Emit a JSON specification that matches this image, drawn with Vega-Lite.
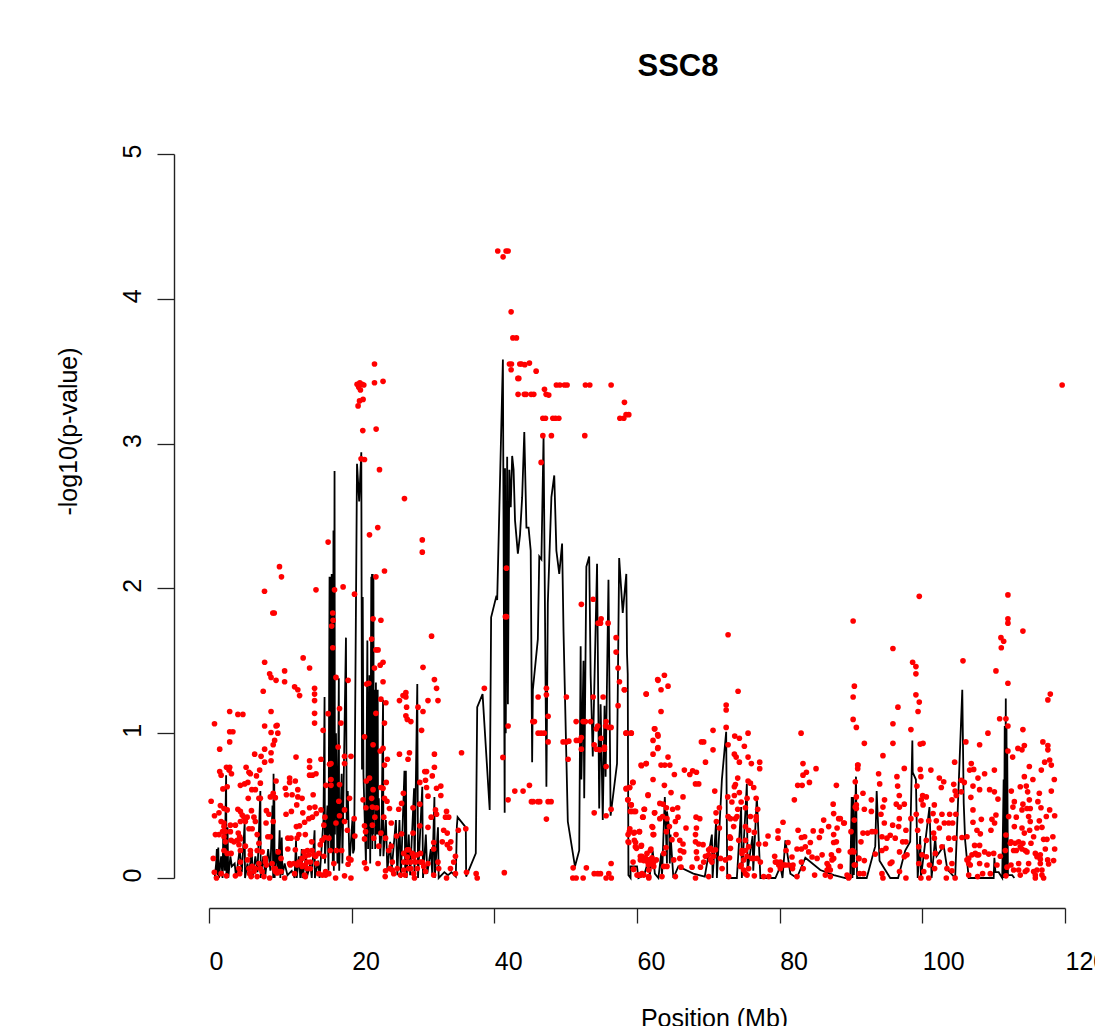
{"$schema":"https://vega.github.io/schema/vega-lite/v6.json","width":856,"height":724,"autosize":{"type":"none"},"padding":{"left":209,"top":154,"right":30,"bottom":148},"background":"white","config":{"view":{"stroke":null},"font":"Liberation Sans"},
"title":{"text":"SSC8","font":"Liberation Sans","fontSize":31,"fontWeight":"bold","color":"black","anchor":"middle","dx":41,"offset":77,"dy":16},
"datasets":{"line":[{"x":0.8,"y":0},{"x":1.0,"y":0.1},{"x":1.1,"y":0.2},{"x":1.2,"y":0.02},{"x":1.3,"y":0.21},{"x":1.4,"y":0},{"x":1.7,"y":0.15},{"x":1.9,"y":0},{"x":2.0,"y":0.3},{"x":2.2,"y":0.05},{"x":2.4,"y":0.71},{"x":2.45,"y":0},{"x":2.6,"y":0.35},{"x":2.7,"y":0},{"x":3.0,"y":0.15},{"x":3.2,"y":0.08},{"x":3.6,"y":0.1},{"x":3.8,"y":0},{"x":4.3,"y":0.2},{"x":4.6,"y":0.04},{"x":5,"y":0.38},{"x":5.05,"y":0},{"x":5.4,"y":0.1},{"x":5.6,"y":0.02},{"x":6.0,"y":0.2},{"x":6.1,"y":0},{"x":6.5,"y":0.15},{"x":6.8,"y":0.04},{"x":7.2,"y":0.6},{"x":7.25,"y":0},{"x":7.6,"y":0.15},{"x":7.9,"y":0.02},{"x":8.3,"y":0.2},{"x":8.6,"y":0.05},{"x":8.9,"y":0.5},{"x":9,"y":0},{"x":9.05,"y":0.72},{"x":9.1,"y":0.02},{"x":9.15,"y":0.65},{"x":9.2,"y":0},{"x":9.5,"y":0.2},{"x":9.7,"y":0.03},{"x":9.9,"y":0.33},{"x":10,"y":0},{"x":10.2,"y":0.28},{"x":10.3,"y":0.02},{"x":10.6,"y":0.1},{"x":11,"y":0.02},{"x":11.6,"y":0.05},{"x":12,"y":0},{"x":12.2,"y":0.26},{"x":12.3,"y":0},{"x":12.6,"y":0.15},{"x":12.8,"y":0},{"x":13,"y":0.2},{"x":13.1,"y":0},{"x":13.6,"y":0.15},{"x":13.7,"y":0},{"x":14.2,"y":0.1},{"x":14.4,"y":0},{"x":14.8,"y":0.33},{"x":14.85,"y":0},{"x":15.3,"y":0.12},{"x":15.5,"y":0},{"x":16.05,"y":0.4},{"x":16.2,"y":1.25},{"x":16.25,"y":0.1},{"x":16.6,"y":0.5},{"x":16.75,"y":0.05},{"x":16.9,"y":2.08},{"x":17,"y":0.3},{"x":17.05,"y":2.08},{"x":17.1,"y":0.2},{"x":17.2,"y":2.1},{"x":17.25,"y":0.3},{"x":17.3,"y":2.1},{"x":17.35,"y":0.1},{"x":17.45,"y":2.4},{"x":17.5,"y":0.05},{"x":17.6,"y":2.81},{"x":17.65,"y":0.3},{"x":17.8,"y":1.0},{"x":18.0,"y":0.1},{"x":18.2,"y":1.38},{"x":18.25,"y":0.05},{"x":18.6,"y":0.72},{"x":18.7,"y":0.1},{"x":19.2,"y":1.66},{"x":19.3,"y":0.4},{"x":19.45,"y":0.6},{"x":19.7,"y":0.1},{"x":20.1,"y":0.4},{"x":20.2,"y":0.17},{"x":20.35,"y":0.2},{"x":20.75,"y":2.86},{"x":21.05,"y":2.6},{"x":21.35,"y":2.94},{"x":21.45,"y":0.75},{"x":21.55,"y":1.94},{"x":21.65,"y":0.72},{"x":22.0,"y":0.1},{"x":22.2,"y":1.64},{"x":22.3,"y":0.2},{"x":22.5,"y":1.4},{"x":22.6,"y":0.1},{"x":22.75,"y":2.08},{"x":22.8,"y":0.3},{"x":22.85,"y":2.1},{"x":22.9,"y":0.2},{"x":22.95,"y":2.1},{"x":23,"y":0.3},{"x":23.05,"y":2.08},{"x":23.1,"y":0.5},{"x":23.2,"y":1.3},{"x":23.3,"y":0.2},{"x":23.4,"y":1.35},{"x":23.5,"y":0.3},{"x":23.65,"y":1.3},{"x":23.7,"y":0.3},{"x":23.8,"y":0.55},{"x":24,"y":0.15},{"x":24.2,"y":0.35},{"x":24.4,"y":1.23},{"x":24.45,"y":0.15},{"x":24.8,"y":0.4},{"x":25,"y":0.05},{"x":25.4,"y":0.25},{"x":25.6,"y":0.05},{"x":26.2,"y":0.4},{"x":26.4,"y":0.02},{"x":26.7,"y":0.4},{"x":26.9,"y":0},{"x":27.4,"y":0.74},{"x":27.5,"y":0.05},{"x":27.6,"y":0.74},{"x":27.7,"y":0},{"x":28,"y":0.3},{"x":28.2,"y":0.02},{"x":28.75,"y":0.62},{"x":28.8,"y":0},{"x":29.2,"y":1.34},{"x":29.3,"y":0},{"x":29.9,"y":0.63},{"x":30,"y":0},{"x":30.4,"y":0.3},{"x":30.6,"y":0.03},{"x":31.1,"y":0.2},{"x":31.3,"y":0.02},{"x":31.6,"y":0.56},{"x":31.65,"y":0},{"x":32.1,"y":0.35},{"x":32.2,"y":0},{"x":33,"y":0.04},{"x":33.5,"y":0.02},{"x":34,"y":0.04},{"x":34.6,"y":0.01},{"x":34.75,"y":0.36},{"x":34.85,"y":0.42},{"x":36,"y":0.35},{"x":36.05,"y":0.01},{"x":37.4,"y":0.17},{"x":37.6,"y":1.18},{"x":38.35,"y":1.27},{"x":39.35,"y":0.47},{"x":39.55,"y":1.8},{"x":40.3,"y":1.95},{"x":40.4,"y":1.92},{"x":41.2,"y":3.58},{"x":41.45,"y":0.45},{"x":41.5,"y":2.83},{"x":41.6,"y":1.0},{"x":41.8,"y":2.91},{"x":41.9,"y":1.2},{"x":42.1,"y":2.82},{"x":42.3,"y":2.56},{"x":42.5,"y":2.915},{"x":42.7,"y":2.82},{"x":42.9,"y":2.47},{"x":43.3,"y":2.24},{"x":43.6,"y":2.37},{"x":43.9,"y":2.63},{"x":44.2,"y":3.08},{"x":44.5,"y":2.42},{"x":44.8,"y":2.42},{"x":45.1,"y":2.26},{"x":45.3,"y":0.8},{"x":45.4,"y":1.3},{"x":46.1,"y":1.65},{"x":46.3,"y":2.22},{"x":46.6,"y":2.2},{"x":46.9,"y":3.05},{"x":47.3,"y":0.63},{"x":47.5,"y":1.9},{"x":48.0,"y":2.63},{"x":48.4,"y":2.78},{"x":48.7,"y":2.26},{"x":49.1,"y":2.1},{"x":49.5,"y":2.31},{"x":49.7,"y":1.7},{"x":50.3,"y":0.39},{"x":51.3,"y":0.08},{"x":51.9,"y":0.19},{"x":52.1,"y":1.6},{"x":52.2,"y":0.68},{"x":52.5,"y":1.5},{"x":52.6,"y":0.55},{"x":52.9,"y":2.15},{"x":53.3,"y":2.22},{"x":53.5,"y":1.4},{"x":53.8,"y":0.84},{"x":54.4,"y":2.17},{"x":54.7,"y":0.48},{"x":54.9,"y":1.2},{"x":55.2,"y":0.4},{"x":55.45,"y":1.19},{"x":55.6,"y":0.7},{"x":56,"y":2.06},{"x":56.3,"y":0.43},{"x":57.2,"y":0.79},{"x":57.5,"y":2.21},{"x":58,"y":1.83},{"x":58.5,"y":2.1},{"x":58.6,"y":1.55},{"x":58.7,"y":1.41},{"x":58.8,"y":0.02},{"x":59.1,"y":0},{"x":59.1,"y":0.08},{"x":60,"y":0.08},{"x":60.2,"y":0},{"x":61,"y":0.02},{"x":61.6,"y":0.12},{"x":61.8,"y":0.02},{"x":62.2,"y":0.19},{"x":62.5,"y":0.03},{"x":63,"y":0},{"x":63.4,"y":0.17},{"x":63.5,"y":0},{"x":63.9,"y":0.56},{"x":64.2,"y":0.1},{"x":64.2,"y":0.46},{"x":64.5,"y":0.35},{"x":64.6,"y":0.1},{"x":64.7,"y":0.3},{"x":65.1,"y":0},{"x":65.8,"y":0.08},{"x":67.9,"y":0.03},{"x":69.5,"y":0.01},{"x":70.5,"y":0.3},{"x":70.6,"y":0},{"x":71.1,"y":0.4},{"x":71.2,"y":0},{"x":71.9,"y":0.68},{"x":72.5,"y":1.01},{"x":72.65,"y":0},{"x":74,"y":0},{"x":74.6,"y":0.49},{"x":74.7,"y":0},{"x":75.4,"y":0.65},{"x":75.5,"y":0.05},{"x":76.2,"y":0.29},{"x":76.3,"y":0.05},{"x":76.8,"y":0.56},{"x":77.3,"y":0},{"x":79.4,"y":0},{"x":80.1,"y":0.08},{"x":80.4,"y":0},{"x":80.8,"y":0.26},{"x":81.5,"y":0.03},{"x":82.4,"y":0},{"x":83.6,"y":0.14},{"x":85.7,"y":0.055},{"x":87.6,"y":0.02},{"x":89.2,"y":0},{"x":89.9,"y":0},{"x":90.1,"y":0.56},{"x":90.2,"y":0},{"x":90.3,"y":0.56},{"x":90.4,"y":0.02},{"x":90.7,"y":0.7},{"x":90.85,"y":0},{"x":92.2,"y":0},{"x":93.4,"y":0.22},{"x":93.6,"y":0.6},{"x":94,"y":0.12},{"x":95.5,"y":0},{"x":96.6,"y":0},{"x":97.6,"y":0.19},{"x":98.3,"y":0.25},{"x":98.6,"y":0.95},{"x":98.65,"y":0.73},{"x":99.1,"y":0.68},{"x":99.35,"y":0},{"x":99.7,"y":0.29},{"x":99.8,"y":0},{"x":101,"y":0.49},{"x":101.3,"y":0},{"x":101.8,"y":0.28},{"x":102,"y":0.15},{"x":103,"y":0.22},{"x":103.5,"y":0.06},{"x":104.6,"y":0},{"x":105.6,"y":1.3},{"x":105.8,"y":0.52},{"x":106,"y":0.26},{"x":106.5,"y":0},{"x":110,"y":0},{"x":110.1,"y":0.14},{"x":110.25,"y":0.04},{"x":110.7,"y":0.04},{"x":111.2,"y":0},{"x":111.4,"y":0.68},{"x":111.45,"y":0},{"x":111.55,"y":1.05},{"x":111.6,"y":0},{"x":111.7,"y":1.24},{"x":111.75,"y":0},{"x":111.8,"y":1.05},{"x":111.85,"y":0.02},{"x":111.9,"y":0.9},{"x":112,"y":0.02},{"x":112.6,"y":0.02},{"x":112.9,"y":0}],
"pts":[{"x":0.3,"y":0.53},{"x":0.77,"y":0.43},{"x":1.6,"y":0.5},{"x":2.1,"y":0.48},{"x":2.55,"y":0.47},{"x":1.4,"y":0.45},{"x":1.7,"y":0.39},{"x":2.1,"y":0.38},{"x":0.9,"y":0.3},{"x":1.4,"y":0.3},{"x":1.9,"y":0.32},{"x":2.1,"y":0.355},{"x":3,"y":0.365},{"x":3.7,"y":0.365},{"x":4.05,"y":0.475},{"x":4.4,"y":0.46},{"x":4.65,"y":0.435},{"x":4.9,"y":0.42},{"x":5.95,"y":0.465},{"x":5.35,"y":0.42},{"x":6.3,"y":0.42},{"x":4.4,"y":0.39},{"x":5.1,"y":0.39},{"x":6.5,"y":0.39},{"x":4.1,"y":0.31},{"x":5.6,"y":0.34},{"x":6.05,"y":0.34},{"x":6.75,"y":0.3},{"x":4.3,"y":0.285},{"x":8.05,"y":0.465},{"x":8.4,"y":0.44},{"x":8,"y":0.38},{"x":9,"y":0.39},{"x":8.25,"y":0.285},{"x":8.6,"y":0.285},{"x":7,"y":0.24},{"x":2.1,"y":0.285},{"x":3,"y":0.32},{"x":3.1,"y":0.26},{"x":2.3,"y":0.25},{"x":2.1,"y":0.19},{"x":3.1,"y":0.17},{"x":0.6,"y":0.135},{"x":3.95,"y":0.26},{"x":4.2,"y":0.23},{"x":4.4,"y":0.19},{"x":5.1,"y":0.22},{"x":5.8,"y":0.19},{"x":5.8,"y":0.16},{"x":5.4,"y":0.125},{"x":4.4,"y":0.11},{"x":4.2,"y":0.065},{"x":6.05,"y":0.08},{"x":6.3,"y":0.045},{"x":6.75,"y":0.19},{"x":7.45,"y":0.18},{"x":7.9,"y":0.135},{"x":7,"y":0.1},{"x":7.45,"y":0.045},{"x":6.75,"y":0.01},{"x":0.75,"y":0.04},{"x":1.05,"y":0},{"x":1.7,"y":0.03},{"x":2.45,"y":0.015},{"x":3.7,"y":0.015},{"x":4.3,"y":0.03},{"x":5.9,"y":0.01},{"x":7.7,"y":0.01},{"x":8.5,"y":0},{"x":8.85,"y":0.1},{"x":9.7,"y":0.18},{"x":10.1,"y":0.135},{"x":9.3,"y":0.065},{"x":9.8,"y":0.045},{"x":10.6,"y":0},{"x":11.05,"y":0.2},{"x":11.05,"y":0.275},{"x":11.5,"y":0.275},{"x":12.35,"y":0.275},{"x":12.6,"y":0.3},{"x":13.5,"y":0.3},{"x":12.1,"y":0.195},{"x":12.25,"y":0.355},{"x":12.7,"y":0.36},{"x":13.4,"y":0.385},{"x":14,"y":0.41},{"x":14.5,"y":0.42},{"x":15.05,"y":0.445},{"x":14.85,"y":0.49},{"x":14.1,"y":0.485},{"x":13.15,"y":0.45},{"x":11.55,"y":0.46},{"x":10.8,"y":0.44},{"x":11.3,"y":0.1},{"x":11.9,"y":0.1},{"x":12.8,"y":0.1},{"x":13.5,"y":0.09},{"x":13.5,"y":0.15},{"x":13.3,"y":0.18},{"x":14.4,"y":0.25},{"x":14.45,"y":0.19},{"x":13.8,"y":0.19},{"x":14.95,"y":0.15},{"x":15.6,"y":0.23},{"x":15.4,"y":0.17},{"x":15.1,"y":0.1},{"x":14.2,"y":0.065},{"x":13.4,"y":0.02},{"x":12,"y":0.03},{"x":15.4,"y":0.03},{"x":16.35,"y":0.02},{"x":16.8,"y":0.03},{"x":17.75,"y":0},{"x":17.5,"y":0.1},{"x":17,"y":0.19},{"x":16.25,"y":0.28},{"x":15.7,"y":0.47},{"x":16.1,"y":0.365},{"x":16.25,"y":0.42},{"x":16.8,"y":0.275},{"x":17.8,"y":0.38},{"x":18.2,"y":0.53},{"x":18.3,"y":0.43},{"x":19,"y":0.47},{"x":19,"y":0.39},{"x":19.4,"y":0.33},{"x":20.35,"y":0.41},{"x":20.45,"y":0.29},{"x":19.7,"y":0.55},{"x":18.6,"y":0.19},{"x":17.85,"y":0.19},{"x":19.6,"y":0.135},{"x":19.9,"y":0.125},{"x":19.5,"y":0.095},{"x":19,"y":0.015},{"x":19.9,"y":0},{"x":21.6,"y":0.54},{"x":22,"y":0.485},{"x":21.8,"y":0.36},{"x":21.95,"y":0.32},{"x":21.8,"y":0.27},{"x":22.9,"y":0.365},{"x":23.1,"y":0.275},{"x":22.8,"y":0.55},{"x":23,"y":0.61},{"x":23.25,"y":0.42},{"x":23.5,"y":0.485},{"x":22.9,"y":0.49},{"x":23.8,"y":0.22},{"x":24.1,"y":0.31},{"x":24.75,"y":0.275},{"x":24.5,"y":0.42},{"x":24.6,"y":0.55},{"x":24.4,"y":0.62},{"x":24.1,"y":0.625},{"x":24.95,"y":0.53},{"x":25.3,"y":0.48},{"x":25.55,"y":0.38},{"x":23.7,"y":0.1},{"x":21.8,"y":0.105},{"x":22.05,"y":0.065},{"x":24.75,"y":0.05},{"x":25.55,"y":0.22},{"x":25.2,"y":0.19},{"x":27.25,"y":0.585},{"x":27,"y":0.515},{"x":26.6,"y":0.475},{"x":28.6,"y":0.485},{"x":29.55,"y":0.51},{"x":28.6,"y":0.31},{"x":27,"y":0.305},{"x":26.3,"y":0.29},{"x":25.7,"y":0.11},{"x":25.35,"y":0.065},{"x":25.9,"y":0.03},{"x":24.7,"y":0.01},{"x":27.8,"y":0.195},{"x":27.3,"y":0.17},{"x":28.5,"y":0.17},{"x":27.8,"y":0.145},{"x":28.3,"y":0.11},{"x":27.3,"y":0.11},{"x":29.2,"y":0.16},{"x":29.65,"y":0.17},{"x":29.9,"y":0.11},{"x":30.7,"y":0.1},{"x":28.3,"y":0.065},{"x":28.8,"y":0},{"x":26.85,"y":0.02},{"x":27.5,"y":0.02},{"x":29.2,"y":0.065},{"x":30.35,"y":0.045},{"x":31.5,"y":0.02},{"x":31.9,"y":0.62},{"x":32.5,"y":0.635},{"x":32.5,"y":0.57},{"x":30.7,"y":0.565},{"x":30.35,"y":0.675},{"x":29.55,"y":0.66},{"x":30.5,"y":0.625},{"x":31.75,"y":0.47},{"x":31.15,"y":0.42},{"x":31.9,"y":0.44},{"x":33.3,"y":0.46},{"x":33.15,"y":0.42},{"x":33.6,"y":0.42},{"x":30.7,"y":0.35},{"x":29.55,"y":0.36},{"x":32.9,"y":0.33},{"x":33.4,"y":0.31},{"x":34.95,"y":0.33},{"x":36,"y":0.34},{"x":31.5,"y":0.245},{"x":31.5,"y":0.2},{"x":32.1,"y":0.11},{"x":32.7,"y":0.25},{"x":33.4,"y":0.23},{"x":33.9,"y":0.25},{"x":33.75,"y":0.205},{"x":34.55,"y":0.15},{"x":34.3,"y":0.11},{"x":33.85,"y":0.065},{"x":34.55,"y":0.03},{"x":32.2,"y":0.065},{"x":33.3,"y":0},{"x":36.1,"y":0.04},{"x":37.45,"y":0.03},{"x":37.6,"y":0},{"x":7.2,"y":0.655},{"x":7,"y":0.55},{"x":7.2,"y":0.55},{"x":5.5,"y":0.55},{"x":6,"y":0.61},{"x":6.5,"y":0.61},{"x":4.4,"y":0.64},{"x":5,"y":0.65},{"x":5.45,"y":0.66},{"x":6.65,"y":0.705},{"x":5.8,"y":0.72},{"x":5.2,"y":0.765},{"x":7.1,"y":0.745},{"x":5.6,"y":0.73},{"x":1.5,"y":0.735},{"x":1.7,"y":0.71},{"x":2.45,"y":0.765},{"x":2.9,"y":0.765},{"x":2.8,"y":0.745},{"x":3.15,"y":0.72},{"x":1.95,"y":0.615},{"x":2.55,"y":0.63},{"x":9,"y":0.585},{"x":8.6,"y":0.56},{"x":9.3,"y":0.555},{"x":9.4,"y":0.67},{"x":11.3,"y":0.69},{"x":11.3,"y":0.66},{"x":12.1,"y":0.67},{"x":10.7,"y":0.62},{"x":10.85,"y":0.575},{"x":12.45,"y":0.61},{"x":11.65,"y":0.575},{"x":12.45,"y":0.56},{"x":13.05,"y":0.55},{"x":12.3,"y":0.505},{"x":14.6,"y":0.575},{"x":9.88,"y":2.15},{"x":10.16,"y":2.08},{"x":7.78,"y":1.98},{"x":8.95,"y":1.83},{"x":9.15,"y":1.83},{"x":15,"y":1.99},{"x":18.8,"y":2.01},{"x":17.6,"y":1.99},{"x":20.4,"y":1.96},{"x":23.4,"y":2.08},{"x":24.6,"y":2.12},{"x":17.35,"y":1.83},{"x":17.4,"y":1.78},{"x":17.2,"y":1.74},{"x":17.35,"y":1.59},{"x":23,"y":1.79},{"x":24.1,"y":1.78},{"x":22.8,"y":1.65},{"x":31.2,"y":1.67},{"x":13.2,"y":1.52},{"x":14.1,"y":1.45},{"x":10.6,"y":1.43},{"x":7.8,"y":1.49},{"x":8.5,"y":1.41},{"x":8.7,"y":1.385},{"x":9.4,"y":1.365},{"x":10.6,"y":1.355},{"x":12,"y":1.32},{"x":12.45,"y":1.3},{"x":12.7,"y":1.26},{"x":14.8,"y":1.31},{"x":14.8,"y":1.27},{"x":14.8,"y":1.225},{"x":14.8,"y":1.137},{"x":14.8,"y":1.07},{"x":7.6,"y":1.29},{"x":17.8,"y":1.385},{"x":19.5,"y":1.365},{"x":22.1,"y":1.34},{"x":22.4,"y":1.345},{"x":23.4,"y":1.575},{"x":23.7,"y":1.575},{"x":24.4,"y":1.49},{"x":24,"y":1.47},{"x":23.2,"y":1.45},{"x":24.4,"y":1.355},{"x":30,"y":1.455},{"x":31.6,"y":1.37},{"x":31.9,"y":1.31},{"x":24.1,"y":1.235},{"x":24.8,"y":1.21},{"x":30.7,"y":1.225},{"x":32.1,"y":1.225},{"x":26.7,"y":1.225},{"x":27.2,"y":1.26},{"x":27.6,"y":1.28},{"x":27.6,"y":1.25},{"x":27.7,"y":1.18},{"x":29.3,"y":1.18},{"x":30,"y":1.15},{"x":27.6,"y":1.12},{"x":27.8,"y":1.095},{"x":28.3,"y":1.08},{"x":23.4,"y":1.137},{"x":24.6,"y":1.07},{"x":29.8,"y":1.02},{"x":18.3,"y":1.17},{"x":16.7,"y":1.135},{"x":18.5,"y":1.07},{"x":16,"y":1.02},{"x":21.8,"y":0.975},{"x":23,"y":0.92},{"x":2.9,"y":1.15},{"x":4.05,"y":1.13},{"x":4.75,"y":1.13},{"x":8.7,"y":1.15},{"x":0.77,"y":1.065},{"x":7.8,"y":1.05},{"x":9.55,"y":1.055},{"x":9.4,"y":1.05},{"x":8.7,"y":1.005},{"x":9.65,"y":1},{"x":2.9,"y":1.01},{"x":3.35,"y":1.01},{"x":2.9,"y":0.94},{"x":9.2,"y":0.95},{"x":9,"y":0.92},{"x":1.5,"y":0.89},{"x":7.8,"y":0.89},{"x":6.4,"y":0.855},{"x":7.3,"y":0.84},{"x":8.7,"y":0.865},{"x":8.7,"y":0.81},{"x":7.8,"y":0.8},{"x":12.2,"y":0.835},{"x":15.7,"y":0.82},{"x":14.1,"y":0.81},{"x":14.1,"y":0.765},{"x":14.1,"y":0.71},{"x":14.5,"y":0.71},{"x":15,"y":0.72},{"x":16.9,"y":0.785},{"x":17.1,"y":0.79},{"x":18.1,"y":0.905},{"x":19,"y":0.84},{"x":19.9,"y":0.84},{"x":19,"y":0.79},{"x":24,"y":0.877},{"x":24.4,"y":0.895},{"x":25,"y":0.82},{"x":24.6,"y":0.78},{"x":26.7,"y":0.855},{"x":28.1,"y":0.865},{"x":27.9,"y":0.82},{"x":31.6,"y":0.855},{"x":31.6,"y":0.765},{"x":35.4,"y":0.865},{"x":38.6,"y":1.31},{"x":30.25,"y":0.735},{"x":30.5,"y":0.735},{"x":31.3,"y":0.705},{"x":24.85,"y":0.66},{"x":22.05,"y":0.67},{"x":22.5,"y":0.69},{"x":17.1,"y":0.68},{"x":16.4,"y":0.64},{"x":17.1,"y":0.64},{"x":18.3,"y":0.645},{"x":40.48,"y":4.33},{"x":41.65,"y":4.33},{"x":41.93,"y":4.33},{"x":41.23,"y":4.29},{"x":42.35,"y":3.91},{"x":42.6,"y":3.73},{"x":43.1,"y":3.73},{"x":42.12,"y":3.55},{"x":42.4,"y":3.55},{"x":42.35,"y":3.51},{"x":43.57,"y":3.55},{"x":43.8,"y":3.55},{"x":44.27,"y":3.545},{"x":44.92,"y":3.556},{"x":45.86,"y":3.5},{"x":43.3,"y":3.45},{"x":43.43,"y":3.45},{"x":43.33,"y":3.34},{"x":44.2,"y":3.34},{"x":44.45,"y":3.34},{"x":45.16,"y":3.34},{"x":45.53,"y":3.34},{"x":47.03,"y":3.375},{"x":47.26,"y":3.34},{"x":47.63,"y":3.335},{"x":48.7,"y":3.405},{"x":49.18,"y":3.405},{"x":49.83,"y":3.405},{"x":50.2,"y":3.405},{"x":52.77,"y":3.405},{"x":53.38,"y":3.405},{"x":56.37,"y":3.405},{"x":58.24,"y":3.285},{"x":57.6,"y":3.175},{"x":58.15,"y":3.175},{"x":58.47,"y":3.2},{"x":58.85,"y":3.2},{"x":46.8,"y":3.175},{"x":47.17,"y":3.175},{"x":48.2,"y":3.175},{"x":48.57,"y":3.175},{"x":49.04,"y":3.175},{"x":46.8,"y":3.055},{"x":48,"y":3.055},{"x":52.68,"y":3.055},{"x":46.56,"y":2.87},{"x":41.7,"y":2.14},{"x":41.55,"y":1.805},{"x":41.7,"y":1.805},{"x":41.4,"y":0.037},{"x":41.2,"y":0.833},{"x":41.93,"y":1.05},{"x":41.93,"y":0.54},{"x":42.87,"y":0.6},{"x":44.03,"y":0.6},{"x":44.92,"y":0.64},{"x":45.2,"y":0.527},{"x":45.44,"y":0.527},{"x":46.1,"y":0.527},{"x":46.37,"y":0.527},{"x":47.54,"y":0.527},{"x":47.96,"y":0.527},{"x":47.3,"y":0.407},{"x":47.3,"y":1.31},{"x":47.3,"y":1.265},{"x":46.14,"y":1.25},{"x":50.1,"y":1.25},{"x":47.54,"y":1.117},{"x":45.4,"y":1.08},{"x":45.62,"y":1.08},{"x":46.14,"y":1},{"x":46.56,"y":1},{"x":47,"y":1},{"x":47.54,"y":0.94},{"x":49.64,"y":0.94},{"x":50.1,"y":0.94},{"x":50.44,"y":0.945},{"x":50.34,"y":0.82},{"x":51.5,"y":0.95},{"x":51.98,"y":0.95},{"x":52.2,"y":0.97},{"x":52.2,"y":0.89},{"x":51.47,"y":1.08},{"x":52.45,"y":1.08},{"x":52.77,"y":1.08},{"x":53.5,"y":1.08},{"x":53.85,"y":1.25},{"x":55.25,"y":1.25},{"x":52.2,"y":1.89},{"x":53.85,"y":1.925},{"x":54.97,"y":1.79},{"x":54.55,"y":1.76},{"x":54.88,"y":1.76},{"x":55.95,"y":1.76},{"x":57.07,"y":1.66},{"x":57.07,"y":1.56},{"x":57.35,"y":1.45},{"x":57.54,"y":1.355},{"x":58.24,"y":1.3},{"x":57.35,"y":1.19},{"x":58.47,"y":1},{"x":59.2,"y":1},{"x":54.3,"y":1.03},{"x":54.5,"y":1.05},{"x":55.67,"y":1.08},{"x":55.6,"y":1.05},{"x":56.37,"y":1.04},{"x":56.05,"y":1.04},{"x":54,"y":0.92},{"x":54.3,"y":0.89},{"x":54.78,"y":0.885},{"x":55.44,"y":0.89},{"x":55.44,"y":0.905},{"x":54.97,"y":0.965},{"x":55.67,"y":0.77},{"x":58.5,"y":0.62},{"x":58.94,"y":0.625},{"x":59.4,"y":0.66},{"x":58.75,"y":0.54},{"x":59.2,"y":0.505},{"x":59.3,"y":0.46},{"x":59.8,"y":0.46},{"x":56.37,"y":0.475},{"x":55.67,"y":0.43},{"x":54,"y":0.45},{"x":51.05,"y":0.07},{"x":51,"y":0},{"x":51.47,"y":0},{"x":52.45,"y":0},{"x":52.9,"y":0.07},{"x":54,"y":0.03},{"x":54.5,"y":0.03},{"x":54.88,"y":0.03},{"x":55.67,"y":0},{"x":56.05,"y":0.03},{"x":56.4,"y":0},{"x":56.37,"y":0.1},{"x":59,"y":0.34},{"x":58.75,"y":0.3},{"x":58.75,"y":0.25},{"x":59.55,"y":0.31},{"x":60.35,"y":0.32},{"x":59.8,"y":0.245},{"x":59.93,"y":0.205},{"x":60.63,"y":0.225},{"x":60.7,"y":0.15},{"x":61.05,"y":0.475},{"x":60.85,"y":0.42},{"x":62.45,"y":0.45},{"x":61.55,"y":0.57},{"x":62.25,"y":0.68},{"x":60.63,"y":0.775},{"x":61.28,"y":0.79},{"x":62.25,"y":0.95},{"x":62.9,"y":0.895},{"x":62.25,"y":0.855},{"x":62.5,"y":1.03},{"x":62.9,"y":0.99},{"x":61.28,"y":1.27},{"x":62.9,"y":1.37},{"x":62.1,"y":0.355},{"x":62.25,"y":0.3},{"x":59.45,"y":0.11},{"x":59.55,"y":0.06},{"x":60.25,"y":0.02},{"x":60.7,"y":0.03},{"x":61.5,"y":0.11},{"x":61.9,"y":0.125},{"x":61.4,"y":0.17},{"x":61.95,"y":0.2},{"x":62.7,"y":0.125},{"x":61.65,"y":0},{"x":72.77,"y":1.68},{"x":74.17,"y":1.29},{"x":72.5,"y":1.195},{"x":72.5,"y":1.16},{"x":72.5,"y":1.04},{"x":63.84,"y":1.4},{"x":62.95,"y":1.365},{"x":64.35,"y":1.325},{"x":63.37,"y":1.3},{"x":61.3,"y":1.27},{"x":63.37,"y":1.15},{"x":62.44,"y":1.03},{"x":62.95,"y":0.98},{"x":62.95,"y":0.9},{"x":64.35,"y":0.835},{"x":60.57,"y":0.78},{"x":61.3,"y":0.79},{"x":63.37,"y":0.78},{"x":63.9,"y":0.78},{"x":64.6,"y":0.78},{"x":65.24,"y":0.715},{"x":66.64,"y":0.745},{"x":67.4,"y":0.715},{"x":67.8,"y":0.74},{"x":68.33,"y":0.73},{"x":68.2,"y":0.65},{"x":68.65,"y":0.65},{"x":63.84,"y":0.64},{"x":59.45,"y":0.66},{"x":58.47,"y":0.615},{"x":58.98,"y":0.625},{"x":58.47,"y":1},{"x":59.17,"y":1},{"x":58.23,"y":1.3},{"x":70.66,"y":1.02},{"x":69.03,"y":0.94},{"x":69.35,"y":0.94},{"x":70.66,"y":0.885},{"x":69.6,"y":0.8},{"x":70.9,"y":0.6},{"x":73.7,"y":0.98},{"x":74.35,"y":0.965},{"x":75.57,"y":1},{"x":75.05,"y":0.91},{"x":72.77,"y":0.92},{"x":73.65,"y":0.855},{"x":73.9,"y":0.835},{"x":75.57,"y":0.835},{"x":74.35,"y":0.8},{"x":76.03,"y":0.79},{"x":77.2,"y":0.8},{"x":77.2,"y":0.755},{"x":74.12,"y":0.69},{"x":73.8,"y":0.645},{"x":73.65,"y":0.63},{"x":75.57,"y":0.67},{"x":75.9,"y":0.655},{"x":76.36,"y":0.625},{"x":74.35,"y":0.59},{"x":73.65,"y":0.57},{"x":72.72,"y":0.56},{"x":73.3,"y":0.525},{"x":74.6,"y":0.525},{"x":75.43,"y":0.55},{"x":76.7,"y":0.55},{"x":75.2,"y":0.485},{"x":74.12,"y":0.475},{"x":76.92,"y":0.475},{"x":71.55,"y":0.485},{"x":71.08,"y":0.45},{"x":71.13,"y":0.39},{"x":71.55,"y":0.345},{"x":74.02,"y":0.425},{"x":73.8,"y":0.41},{"x":72.77,"y":0.425},{"x":73.1,"y":0.41},{"x":75.9,"y":0.425},{"x":76.7,"y":0.425},{"x":76.7,"y":0.4},{"x":75.2,"y":0.355},{"x":75.65,"y":0.33},{"x":73.55,"y":0.355},{"x":76.45,"y":0.315},{"x":78.37,"y":0.29},{"x":77.07,"y":0.235},{"x":78,"y":0.235},{"x":74.27,"y":0.26},{"x":73.1,"y":0.275},{"x":66.45,"y":0.56},{"x":64.77,"y":0.59},{"x":61.55,"y":0.575},{"x":58.7,"y":0.54},{"x":59.17,"y":0.505},{"x":59.07,"y":0.46},{"x":59.63,"y":0.46},{"x":61,"y":0.475},{"x":60.8,"y":0.42},{"x":62.48,"y":0.45},{"x":63.2,"y":0.515},{"x":63.65,"y":0.51},{"x":64.12,"y":0.485},{"x":65,"y":0.475},{"x":65.7,"y":0.485},{"x":63.6,"y":0.425},{"x":63.2,"y":0.41},{"x":64.2,"y":0.41},{"x":65.75,"y":0.42},{"x":65.38,"y":0.39},{"x":68.28,"y":0.42},{"x":68.8,"y":0.41},{"x":64.54,"y":0.355},{"x":64.12,"y":0.32},{"x":62.2,"y":0.35},{"x":62.35,"y":0.3},{"x":58.93,"y":0.32},{"x":59.63,"y":0.315},{"x":60.33,"y":0.32},{"x":66.87,"y":0.345},{"x":68.33,"y":0.345},{"x":68.2,"y":0.3},{"x":65.47,"y":0.3},{"x":64.9,"y":0.265},{"x":66,"y":0.26},{"x":66.45,"y":0.235},{"x":68.2,"y":0.25},{"x":68.65,"y":0.235},{"x":69.26,"y":0.23},{"x":58.85,"y":0.245},{"x":59.63,"y":0.26},{"x":59.77,"y":0.215},{"x":60.57,"y":0.22},{"x":61.87,"y":0.19},{"x":64.07,"y":0.21},{"x":66.08,"y":0.19},{"x":66.55,"y":0.18},{"x":68.33,"y":0.18},{"x":70.3,"y":0.205},{"x":70.66,"y":0.19},{"x":66,"y":0.135},{"x":65.15,"y":0.125},{"x":68.4,"y":0.135},{"x":70.05,"y":0.16},{"x":70.3,"y":0.125},{"x":60.47,"y":0.15},{"x":60.95,"y":0.12},{"x":62.1,"y":0.14},{"x":62.35,"y":0.11},{"x":61.6,"y":0.09},{"x":59.5,"y":0.06},{"x":60.47,"y":0.02},{"x":61.65,"y":0.01},{"x":64.2,"y":0.08},{"x":65.38,"y":0.01},{"x":66.17,"y":0.075},{"x":67.72,"y":0.075},{"x":68.9,"y":0.075},{"x":68.2,"y":0},{"x":70.05,"y":0.01},{"x":71.93,"y":0.065},{"x":71.7,"y":0.135},{"x":72.4,"y":0.125},{"x":72.97,"y":0.14},{"x":73.1,"y":0.205},{"x":73,"y":0.285},{"x":72.85,"y":0.01},{"x":75.2,"y":0.19},{"x":75.43,"y":0.15},{"x":74.72,"y":0.19},{"x":76.36,"y":0.135},{"x":77.3,"y":0.11},{"x":74.6,"y":0.09},{"x":75.2,"y":0.03},{"x":76.45,"y":0.015},{"x":77.75,"y":0.01},{"x":78.47,"y":0.01},{"x":78.7,"y":0.055},{"x":79.3,"y":0.15},{"x":79.63,"y":0.11},{"x":79.87,"y":0.09},{"x":79.77,"y":0.325},{"x":79.77,"y":0.275},{"x":80.47,"y":0.385},{"x":80.9,"y":0.19},{"x":81.17,"y":0.245},{"x":80.1,"y":0.065},{"x":80.8,"y":0.09},{"x":81.73,"y":0.145},{"x":81.87,"y":0.09},{"x":81.8,"y":0.065},{"x":82.43,"y":0.01},{"x":82.58,"y":0.33},{"x":83.05,"y":0.28},{"x":83.5,"y":0.285},{"x":84.7,"y":0.325},{"x":85.85,"y":0.325},{"x":85.57,"y":0.28},{"x":84.3,"y":0.245},{"x":82.43,"y":0.2},{"x":83.05,"y":0.2},{"x":83.6,"y":0.215},{"x":84.07,"y":0.18},{"x":84.54,"y":0.145},{"x":85.25,"y":0.135},{"x":85.95,"y":0.16},{"x":83.05,"y":0.11},{"x":83.3,"y":0.065},{"x":84.9,"y":0.02},{"x":86.65,"y":0.1},{"x":87.25,"y":0.16},{"x":87.57,"y":0.135},{"x":86.65,"y":0.055},{"x":87.1,"y":0.01},{"x":88.5,"y":0.08},{"x":88.27,"y":0.19},{"x":87.95,"y":0.25},{"x":87.57,"y":0.245},{"x":88.05,"y":0.345},{"x":87.57,"y":0.3},{"x":86.17,"y":0.4},{"x":86.87,"y":0.355},{"x":88.27,"y":0.41},{"x":88.98,"y":0.38},{"x":87.57,"y":0.445},{"x":87.5,"y":0.51},{"x":87.95,"y":0.64},{"x":82.06,"y":0.54},{"x":82.53,"y":0.64},{"x":83.15,"y":0.64},{"x":84.17,"y":0.66},{"x":83.27,"y":0.71},{"x":83.75,"y":0.73},{"x":85.1,"y":0.755},{"x":83.27,"y":0.79},{"x":83,"y":1},{"x":90.3,"y":1.25},{"x":90.47,"y":1.325},{"x":90.3,"y":1.095},{"x":90.75,"y":1.04},{"x":90.3,"y":1.775},{"x":90.6,"y":0.665},{"x":90.75,"y":0.56},{"x":90.75,"y":0.505},{"x":90.75,"y":0.48},{"x":90.94,"y":0.78},{"x":90.94,"y":0.755},{"x":90,"y":0.32},{"x":89.6,"y":0.01},{"x":90.4,"y":0.18},{"x":89.9,"y":0.18},{"x":90.6,"y":0.09},{"x":91.1,"y":0.135},{"x":91.2,"y":0.03},{"x":91.87,"y":0.93},{"x":90.98,"y":0.78},{"x":94.48,"y":0.845},{"x":93.87,"y":0.72},{"x":94.02,"y":0.65},{"x":91.68,"y":0.585},{"x":92.85,"y":0.54},{"x":92.85,"y":0.46},{"x":91.87,"y":0.475},{"x":94.7,"y":0.54},{"x":94.48,"y":0.49},{"x":94.2,"y":0.44},{"x":94.67,"y":0.38},{"x":90.6,"y":0.49},{"x":90.46,"y":0.4},{"x":92.94,"y":0.32},{"x":93.4,"y":0.32},{"x":92.33,"y":0.31},{"x":91.68,"y":0.31},{"x":91.4,"y":0.25},{"x":94.34,"y":0.285},{"x":95.5,"y":0.295},{"x":96.2,"y":0.275},{"x":95.04,"y":0.275},{"x":95.88,"y":1.585},{"x":96.58,"y":1.18},{"x":95.88,"y":1.065},{"x":95.88,"y":0.93},{"x":97.47,"y":0.757},{"x":96.44,"y":0.7},{"x":96.54,"y":0.635},{"x":96.77,"y":0.57},{"x":96.35,"y":0.51},{"x":96.8,"y":0.49},{"x":97.47,"y":0.51},{"x":96.77,"y":0.41},{"x":95.84,"y":0.365},{"x":96.68,"y":0.355},{"x":97.7,"y":0.33},{"x":97.24,"y":0.25},{"x":97.7,"y":0.25},{"x":98.4,"y":0.41},{"x":98.4,"y":1.025},{"x":99.57,"y":1.945},{"x":98.64,"y":1.49},{"x":99.1,"y":1.46},{"x":99.1,"y":1.41},{"x":99.1,"y":1.265},{"x":99.57,"y":1.215},{"x":99.4,"y":1.15},{"x":99.7,"y":0.925},{"x":100.1,"y":0.93},{"x":99.7,"y":0.75},{"x":99.8,"y":0.7},{"x":99.25,"y":0.635},{"x":100.04,"y":0.57},{"x":100.56,"y":0.56},{"x":99.86,"y":0.54},{"x":100.1,"y":0.505},{"x":99.15,"y":0.44},{"x":99.8,"y":0.395},{"x":99.34,"y":0.33},{"x":101.2,"y":0.745},{"x":101.68,"y":0.505},{"x":101.5,"y":0.445},{"x":100.9,"y":0.395},{"x":101.96,"y":0.395},{"x":102.75,"y":0.44},{"x":103.83,"y":0.44},{"x":102.38,"y":0.69},{"x":103,"y":0.665},{"x":102.66,"y":0.625},{"x":104.4,"y":0.647},{"x":104.53,"y":0.8},{"x":104.6,"y":0.6},{"x":104.76,"y":0.57},{"x":104.15,"y":0.54},{"x":104.7,"y":0.44},{"x":103.08,"y":0.38},{"x":103.7,"y":0.38},{"x":104.25,"y":0.38},{"x":102.38,"y":0.345},{"x":101.58,"y":0.31},{"x":100.56,"y":0.26},{"x":101.68,"y":0.275},{"x":104.53,"y":0.275},{"x":103.7,"y":0.275},{"x":105.7,"y":1.5},{"x":106.1,"y":0.94},{"x":106.86,"y":0.79},{"x":106.63,"y":0.745},{"x":107.2,"y":0.75},{"x":108.73,"y":0.72},{"x":108.03,"y":0.92},{"x":109.2,"y":1},{"x":105.46,"y":0.675},{"x":105.88,"y":0.66},{"x":107.1,"y":0.635},{"x":107.8,"y":0.69},{"x":108.03,"y":0.61},{"x":106.8,"y":0.557},{"x":105.46,"y":0.595},{"x":110.1,"y":0.745},{"x":109.43,"y":0.61},{"x":110.1,"y":0.595},{"x":110.6,"y":0.545},{"x":107.1,"y":0.47},{"x":108.27,"y":0.405},{"x":107.1,"y":0.385},{"x":107.66,"y":0.33},{"x":108.13,"y":0.305},{"x":109.76,"y":0.405},{"x":110.32,"y":0.435},{"x":109.62,"y":0.33},{"x":110.13,"y":0.38},{"x":106.26,"y":0.285},{"x":105.56,"y":0.28},{"x":107.33,"y":0.225},{"x":108.03,"y":0.225},{"x":108.73,"y":0.18},{"x":109.3,"y":0.165},{"x":110,"y":0.17},{"x":107.66,"y":0.16},{"x":106.26,"y":0.125},{"x":106.72,"y":0.09},{"x":108.03,"y":0.1},{"x":109.06,"y":0.09},{"x":110.46,"y":0.09},{"x":108.45,"y":0.03},{"x":109.53,"y":0.03},{"x":106.5,"y":0.02},{"x":107.75,"y":0.01},{"x":110.84,"y":1.1},{"x":112,"y":1.955},{"x":112,"y":1.79},{"x":112,"y":1.76},{"x":114.1,"y":1.705},{"x":111.02,"y":1.66},{"x":111.4,"y":1.635},{"x":111.07,"y":1.59},{"x":110.32,"y":1.43},{"x":112,"y":1.345},{"x":111.72,"y":1.1},{"x":112,"y":1.05},{"x":114.1,"y":1.025},{"x":117.94,"y":1.27},{"x":117.6,"y":1.23},{"x":116.9,"y":0.94},{"x":117.6,"y":0.915},{"x":117.6,"y":0.885},{"x":114.3,"y":0.915},{"x":113.4,"y":0.895},{"x":113.97,"y":0.885},{"x":112,"y":0.877},{"x":112.66,"y":0.835},{"x":117.15,"y":0.8},{"x":117.85,"y":0.815},{"x":118.08,"y":0.78},{"x":115,"y":0.77},{"x":116.68,"y":0.745},{"x":114.3,"y":0.7},{"x":115.5,"y":0.68},{"x":118.5,"y":0.68},{"x":118.08,"y":0.6},{"x":113.73,"y":0.63},{"x":114.57,"y":0.635},{"x":114.76,"y":0.595},{"x":112.47,"y":0.6},{"x":116.4,"y":0.585},{"x":112.9,"y":0.527},{"x":114.1,"y":0.51},{"x":115,"y":0.54},{"x":116.2,"y":0.527},{"x":116.63,"y":0.485},{"x":117.85,"y":0.47},{"x":118.55,"y":0.43},{"x":117.38,"y":0.425},{"x":112.7,"y":0.49},{"x":113.97,"y":0.47},{"x":114.67,"y":0.48},{"x":115.13,"y":0.48},{"x":116.4,"y":0.395},{"x":112.1,"y":0.425},{"x":113.17,"y":0.42},{"x":114.9,"y":0.425},{"x":115.13,"y":0.39},{"x":112.9,"y":0.355},{"x":113.97,"y":0.345},{"x":114.3,"y":0.31},{"x":116.07,"y":0.345},{"x":116.77,"y":0.35},{"x":115.04,"y":0.33},{"x":115.6,"y":0.285},{"x":118.3,"y":0.285},{"x":115.23,"y":0.24},{"x":117,"y":0.267},{"x":117.47,"y":0.267},{"x":118.55,"y":0.2},{"x":117.24,"y":0.2},{"x":113.5,"y":0.25},{"x":114.1,"y":0.24},{"x":112.43,"y":0.25},{"x":113.03,"y":0.24},{"x":113.17,"y":0.19},{"x":113.97,"y":0.2},{"x":114.43,"y":0.19},{"x":111.72,"y":0.297},{"x":111.63,"y":0.19},{"x":110.93,"y":0.15},{"x":115.84,"y":0.17},{"x":116.54,"y":0.16},{"x":117.57,"y":0.125},{"x":118.4,"y":0.12},{"x":116.54,"y":0.1},{"x":114.9,"y":0.1},{"x":113.5,"y":0.1},{"x":112.43,"y":0.09},{"x":112.8,"y":0.055},{"x":114.43,"y":0.045},{"x":115.6,"y":0.045},{"x":116.77,"y":0.055},{"x":111.87,"y":0.075},{"x":113.73,"y":0.02},{"x":115.84,"y":0},{"x":117,"y":0},{"x":111.72,"y":0.015},{"x":117.7,"y":0.097},{"x":90.2,"y":0.19},{"x":90.46,"y":0.09},{"x":91.07,"y":0.135},{"x":91.87,"y":0.12},{"x":89.67,"y":0},{"x":91.77,"y":0.03},{"x":93.4,"y":0.165},{"x":94.34,"y":0.19},{"x":94.9,"y":0.205},{"x":95.5,"y":0.1},{"x":94.34,"y":0.03},{"x":94.48,"y":0},{"x":95.74,"y":0.11},{"x":96.8,"y":0.18},{"x":97.85,"y":0.16},{"x":97.47,"y":0.147},{"x":96.8,"y":0.045},{"x":97.7,"y":0},{"x":99.5,"y":0.215},{"x":99.95,"y":0.16},{"x":99.5,"y":0.1},{"x":100.56,"y":0.147},{"x":101,"y":0.09},{"x":100.2,"y":0.045},{"x":99.8,"y":0},{"x":100.9,"y":0},{"x":101.82,"y":0.17},{"x":102.38,"y":0.11},{"x":101.72,"y":0.065},{"x":102.75,"y":0.215},{"x":103.92,"y":0.195},{"x":104.15,"y":0.1},{"x":103.45,"y":0.065},{"x":103.36,"y":0},{"x":104.6,"y":0},{"x":104.15,"y":0.05},{"x":88.5,"y":0.41},{"x":89.06,"y":0.38},{"x":119.6,"y":3.405},{"x":23.2,"y":3.55},{"x":23.2,"y":3.42},{"x":24.4,"y":3.43},{"x":20.76,"y":3.41},{"x":21.14,"y":3.42},{"x":21.47,"y":3.41},{"x":21.7,"y":3.405},{"x":21,"y":3.39},{"x":21.23,"y":3.37},{"x":21.6,"y":3.305},{"x":21.1,"y":3.295},{"x":20.9,"y":3.26},{"x":21.56,"y":3.09},{"x":23.43,"y":3.1},{"x":21.32,"y":2.895},{"x":21.8,"y":2.89},{"x":23.9,"y":2.82},{"x":27.4,"y":2.62},{"x":23.66,"y":2.42},{"x":22.5,"y":2.37},{"x":16.7,"y":2.32},{"x":29.9,"y":2.335},{"x":29.9,"y":2.25},{"x":5.6,"y":0.065},{"x":6.5,"y":0.065},{"x":5.7,"y":0.03},{"x":7.2,"y":0.065},{"x":7.9,"y":0.11},{"x":8.05,"y":0.09},{"x":9.1,"y":0.065},{"x":9.55,"y":0.035},{"x":10.1,"y":0.045},{"x":9.3,"y":0.045},{"x":11.4,"y":0.09},{"x":12.35,"y":0.09},{"x":12.6,"y":0.11},{"x":13.05,"y":0.135},{"x":13.75,"y":0.11},{"x":14,"y":0.16},{"x":13.05,"y":0.08},{"x":13.75,"y":0.065},{"x":13.5,"y":0.01},{"x":14.2,"y":0.11},{"x":14.7,"y":0.16},{"x":15.85,"y":0.26},{"x":16.1,"y":0.15},{"x":16.35,"y":0.045},{"x":15.9,"y":0.02},{"x":28,"y":0.195},{"x":27.8,"y":0.11},{"x":28.7,"y":0.145},{"x":28.95,"y":0.11},{"x":28.7,"y":0.03},{"x":28,"y":0.065},{"x":27.3,"y":0.055},{"x":26.4,"y":0.065},{"x":25.7,"y":0.055},{"x":29.65,"y":0.11},{"x":30.1,"y":0.08},{"x":4.4,"y":0.27},{"x":3.5,"y":0.25},{"x":2.3,"y":0.32},{"x":2.55,"y":0.17},{"x":60.47,"y":0.125},{"x":61.17,"y":0.14},{"x":61.65,"y":0.125},{"x":62.1,"y":0.1},{"x":62.35,"y":0.08},{"x":61.65,"y":0.055},{"x":60.95,"y":0.02},{"x":60,"y":0.02},{"x":63.75,"y":0.17},{"x":63.75,"y":0.08},{"x":63.5,"y":0.01},{"x":69.6,"y":0.15},{"x":70.05,"y":0.195},{"x":70.75,"y":0.15},{"x":70.5,"y":0.11},{"x":71,"y":0.195},{"x":69.35,"y":0.11},{"x":74.72,"y":0.17},{"x":74.96,"y":0.125},{"x":75.65,"y":0.215},{"x":75.2,"y":0.26},{"x":74.5,"y":0.08},{"x":74.96,"y":0.055},{"x":75.65,"y":0.065},{"x":76.1,"y":0.135},{"x":76.83,"y":0.135},{"x":75.43,"y":0.02},{"x":79.4,"y":0.11},{"x":80.1,"y":0.11},{"x":80.57,"y":0.09},{"x":81.27,"y":0.09},{"x":86.87,"y":0.08},{"x":87.1,"y":0.055},{"x":86.4,"y":0.02},{"x":87.34,"y":0.125},{"x":89.45,"y":0.02},{"x":89.77,"y":0.01},{"x":107.43,"y":0.17},{"x":106.5,"y":0.135},{"x":106.96,"y":0.16},{"x":106.5,"y":0.1},{"x":107.9,"y":0.16},{"x":113.73,"y":0.215},{"x":114.67,"y":0.055},{"x":113.5,"y":0.055},{"x":116.07,"y":0.147},{"x":115.84,"y":0.02},{"x":116.77,"y":0.02},{"x":116.07,"y":0.055},{"x":116.54,"y":0.13},{"x":114.67,"y":0.18},{"x":112.8,"y":0.19},{"x":112.34,"y":0.24}]},
"layer":[
{"data":{"name":"line"},"mark":{"type":"line","color":"black","strokeWidth":1.8,"clip":false},"encoding":{"x":{"field":"x","type":"quantitative","sort":null,"scale":{"domain":[0,120],"nice":false,"zero":false},"axis":{"values":[0,20,40,60,80,100,120],"title":"Position (Mb)","titleFont":"Liberation Sans","titleFontSize":25,"titleFontWeight":"normal","titleColor":"black","titleX":505,"titleY":123,"titleBaseline":"bottom","grid":false,"offset":30,"domainColor":"#222","domainWidth":1.4,"tickColor":"#222","tickWidth":1.3,"tickSize":15,"labelFont":"Liberation Sans","labelFontSize":25,"labelColor":"black","labelAlign":"left","labelBaseline":"top","labelPadding":26,"labelOverlap":false,"labelBound":false,"labelFlush":false}},"y":{"field":"y","type":"quantitative","scale":{"domain":[0,5],"nice":false,"zero":false},"axis":{"values":[0,1,2,3,4,5],"format":"d","title":"-log10(p-value)","titleFont":"Liberation Sans","titleFontSize":25,"titleFontWeight":"normal","titleColor":"black","titleX":-93,"titleY":277,"grid":false,"offset":35,"domainColor":"#222","domainWidth":1.4,"tickColor":"#222","tickWidth":1.3,"tickSize":17,"labelFont":"Liberation Sans","labelFontSize":25,"labelColor":"black","labelAngle":270,"labelAlign":"center","labelBaseline":"bottom","labelPadding":12,"labelOffset":-3,"labelOverlap":false}}}},
{"data":{"name":"pts"},"mark":{"type":"point","filled":true,"shape":"circle","color":"#ff0000","size":32,"opacity":1,"clip":false},"encoding":{"x":{"field":"x","type":"quantitative"},"y":{"field":"y","type":"quantitative"}}}
]}
